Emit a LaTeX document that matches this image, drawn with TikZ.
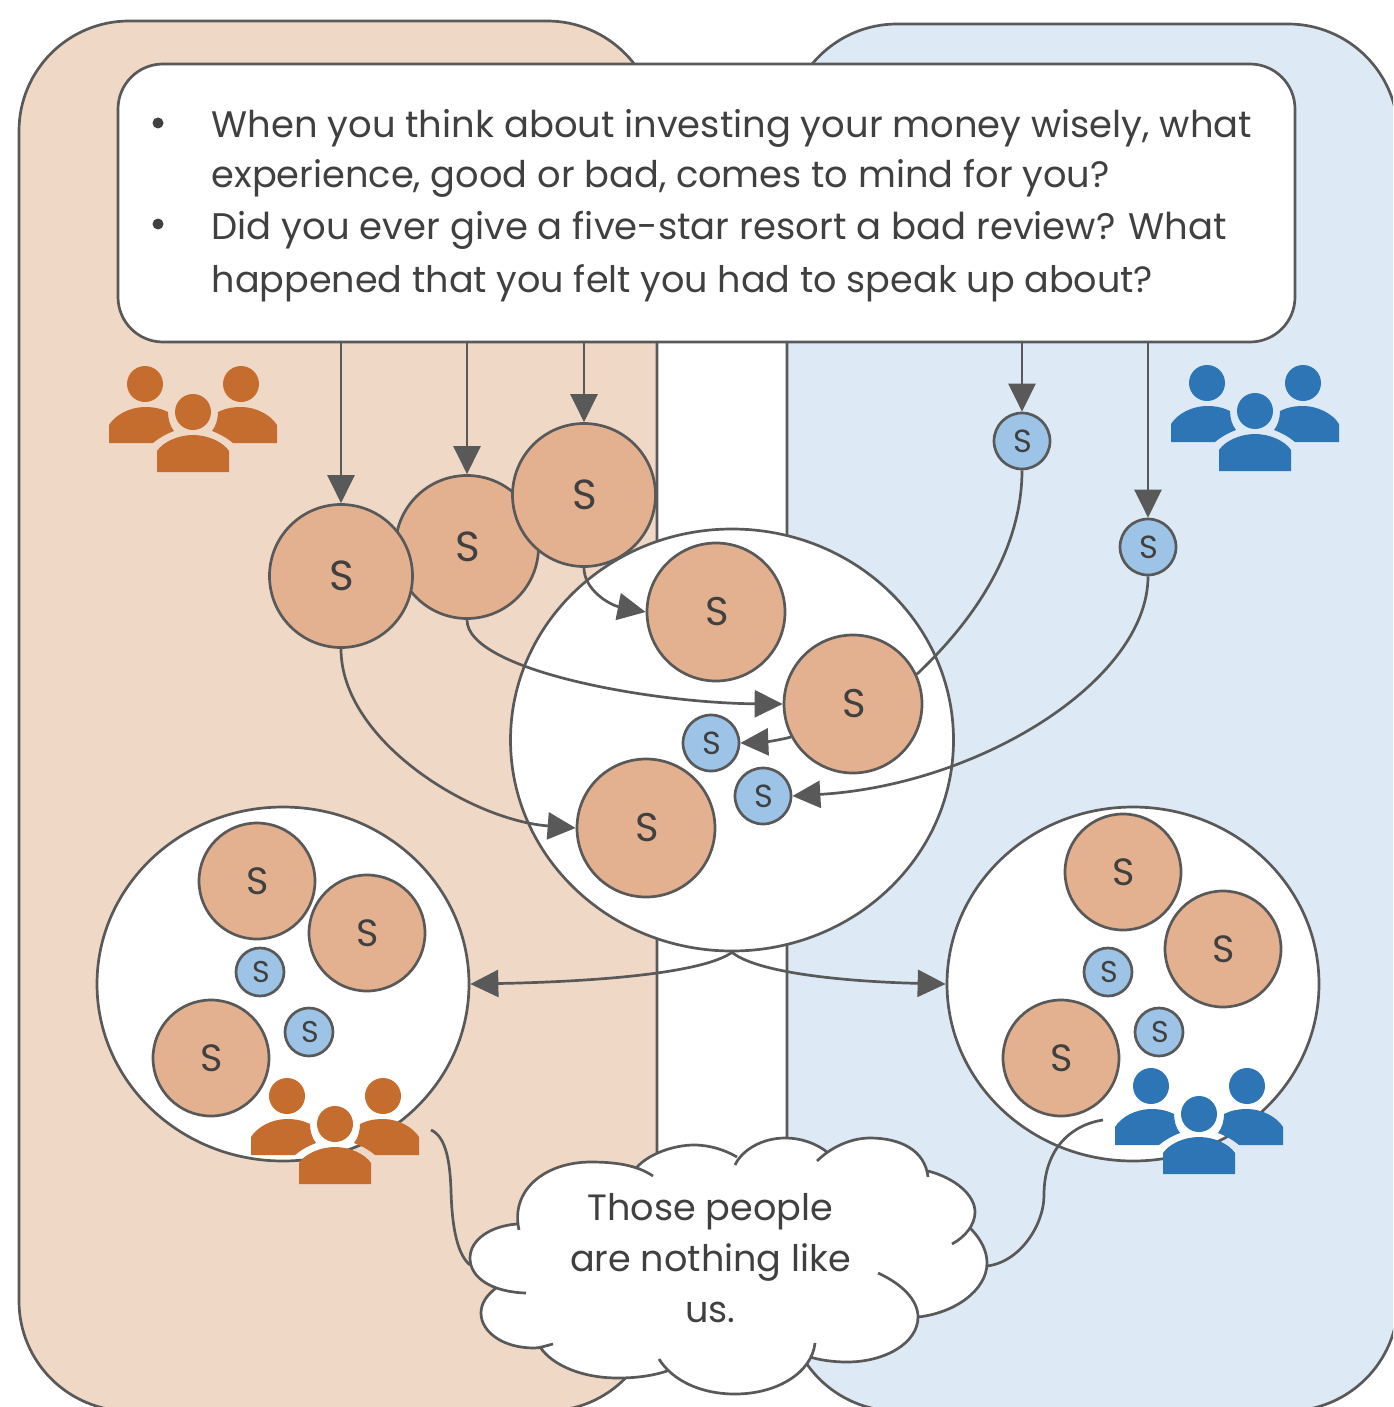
\documentclass[tikz,border=0pt]{standalone}
\usepackage{fontspec}
\setmainfont{Poppins}
\usetikzlibrary{arrows.meta,shapes.geometric}
\definecolor{linegray}{HTML}{595959}
\definecolor{textgray}{HTML}{404040}
\definecolor{peach}{HTML}{F0D8C7}
\definecolor{skyp}{HTML}{DDEAF6}
\definecolor{sorange}{HTML}{E3B18F}
\definecolor{sblue}{HTML}{9DC3E6}
\definecolor{iconorange}{HTML}{C46D2F}
\definecolor{iconblue}{HTML}{2E75B6}
\newcommand\fs[1]{\fontsize{#1}{#1}\selectfont}
\newcommand\Sx{\kern2pt S}
\newcommand\peopleicon[3]{%
  \begin{scope}[shift={(#1,#2)}]
    \fill[#3] (145,384) circle[radius=18] (241,384) circle[radius=18] (193,412) circle[radius=18];
    \fill[#3] (109,443) -- (109,425) .. controls (115,415) and (130,407) .. (145,407)
      .. controls (155,407) and (162,409) .. (168,412) .. controls (168,419) and (170,426) .. (174,431)
      .. controls (166,434) and (159,438) .. (153,443) -- cycle;
    \fill[#3] (277,443) -- (277,425) .. controls (271,415) and (256,407) .. (241,407)
      .. controls (231,407) and (224,409) .. (218,412) .. controls (218,419) and (216,426) .. (212,431)
      .. controls (220,434) and (227,438) .. (233,443) -- cycle;
    \fill[#3] (157,472) -- (157,451) .. controls (163,442) and (178,435) .. (193,435)
      .. controls (208,435) and (223,442) .. (229,451) -- (229,472) -- cycle;
  \end{scope}}
\newcommand\lobeA{(519,1230) .. controls (510,1190) and (545,1162) .. (591,1162) .. controls (615,1162) and (637,1165) .. (653,1176)}
\newcommand\lobeB{(637,1167) .. controls (650,1153) and (675,1145) .. (694,1145) .. controls (710,1145) and (725,1150) .. (737,1157)}
\newcommand\lobeC{(735,1165) .. controls (742,1150) and (762,1138) .. (785,1138) .. controls (802,1138) and (817,1144) .. (827,1152)}
\newcommand\lobeD{(817,1161) .. controls (830,1148) and (850,1138) .. (870,1138) .. controls (900,1138) and (925,1150) .. (928,1177)}
\newcommand\lobeE{(928,1171) .. controls (955,1178) and (975,1195) .. (975,1212) .. controls (975,1225) and (965,1237) .. (952,1244)}
\newcommand\lobeF{(970,1228) .. controls (982,1240) and (987,1252) .. (987,1263) .. controls (987,1290) and (955,1313) .. (918,1317)}
\newcommand\lobeG{(878,1273) .. controls (902,1284) and (918,1300) .. (918,1317) .. controls (918,1343) and (885,1362) .. (847,1362) .. controls (833,1362) and (820,1360) .. (810,1357)}
\newcommand\lobeH{(815,1343) .. controls (812,1372) and (778,1394) .. (735,1394) .. controls (700,1394) and (672,1380) .. (659,1359)}
\newcommand\lobeI{(667,1371) .. controls (652,1376) and (635,1378) .. (618,1378) .. controls (583,1378) and (553,1366) .. (540,1347)}
\newcommand\lobeJ{(553,1344) .. controls (545,1346) and (540,1348) .. (534,1348) .. controls (503,1348) and (481,1332) .. (481,1313) .. controls (481,1303) and (487,1295) .. (496,1288)}
\newcommand\lobeK{(526,1293) .. controls (492,1292) and (470,1278) .. (470,1258) .. controls (470,1240) and (490,1226) .. (517,1224)}
\tikzset{
  every node/.style={text=textgray,inner sep=0pt},
  ln/.style={draw=linegray,line width=2.7pt},
  conn/.style={ln,-{Triangle[length=28pt,width=27pt]}},
  plainconn/.style={ln},
  panel/.style={ln,rounded corners=110pt},
  bigring/.style={ln,ellipse,fill=white},
  so/.style={ln,circle,fill=sorange,minimum size=#1},
  sb/.style={ln,circle,fill=sblue,minimum size=#1},
  txt/.style={anchor=base west,font=\fs{#1}},
  ctxt/.style={anchor=base,font=\fs{36.6}},
  bullet/.style={circle,fill=textgray,minimum size=11pt},
}
\begin{document}
\begin{tikzpicture}[x=1pt,y=-1pt]
\useasboundingbox (0,0) rectangle (1393,1407);
\fill[white] (0,0) rectangle (1393,1407);
\begin{scope}
\clip (0,0) rectangle (1393,1407);
\path[panel,fill=peach] (19,21) rectangle (657,1411);
\path[panel,fill=skyp] (787,24) rectangle (1398,1411);
\end{scope}
% rings
\node[bigring,minimum width=443pt,minimum height=422pt] (ringc) at (732,740) {};
\node[bigring,minimum width=372pt,minimum height=354pt] (ringl) at (283,984) {};
\node[bigring,minimum width=372pt,minimum height=354pt] (ringr) at (1133,984) {};
% question box
\node[ln,rectangle,rounded corners=45pt,fill=white,minimum width=1177pt,minimum height=278pt] (box) at (706.5,203) {};
\node[bullet] (b1) at (158,123) {};
\node[bullet] (b2) at (158,224) {};
\node[txt=36.9] (t1) at (211.5,138) {When you think about investing your money wisely, what};
\node[txt=36.75] (t2) at (211.5,188) {experience, good or bad, comes to mind for you?};
\node[txt=37] (t3) at (211.5,239) {Did you ever give a five-star resort a bad review? What};
\node[txt=36.55] (t4) at (211.5,292) {happened that you felt you had to speak up about?};
% upper circles
\node[so=143pt,font=\fs{42}] (o2) at (467,547) {\Sx};
\node[so=143pt,font=\fs{42}] (o1) at (341,576) {\Sx};
\node[so=143pt,font=\fs{42}] (o3) at (584,495) {\Sx};
\node[sb=56pt,font=\fs{32}] (s1) at (1022,441) {\Sx};
\node[sb=56pt,font=\fs{32}] (s2) at (1148,547) {\Sx};
% centre ring content
\node[so=138pt,font=\fs{40}] (i1) at (716,612) {\Sx};
\node[so=138pt,font=\fs{40}] (i2) at (853,704) {\Sx};
\node[so=138pt,font=\fs{40}] (i3) at (646,828) {\Sx};
\node[sb=56pt,font=\fs{32}] (j1) at (711,743) {\Sx};
\node[sb=56pt,font=\fs{32}] (j2) at (763,796) {\Sx};
% left ring content
\node[so=116pt,font=\fs{38}] (l1) at (257,881) {\Sx};
\node[so=116pt,font=\fs{38}] (l2) at (367,933) {\Sx};
\node[so=116pt,font=\fs{38}] (l3) at (211,1058) {\Sx};
\node[sb=48pt,font=\fs{30}] (l4) at (260,972) {\Sx};
\node[sb=48pt,font=\fs{30}] (l5) at (309,1032) {\Sx};
% right ring content
\node[so=116pt,font=\fs{38}] (r1) at (1123,872) {\Sx};
\node[so=116pt,font=\fs{38}] (r2) at (1223,949) {\Sx};
\node[so=116pt,font=\fs{38}] (r3) at (1061,1058) {\Sx};
\node[sb=48pt,font=\fs{30}] (r4) at (1108,972) {\Sx};
\node[sb=48pt,font=\fs{30}] (r5) at (1159,1032) {\Sx};
% people
\peopleicon{0}{0}{iconorange}
\peopleicon{1062}{-1}{iconblue}
\peopleicon{142}{712}{iconorange}
\peopleicon{1006}{702}{iconblue}
% cloud
\fill[white] \lobeA -- \lobeB -- \lobeC -- \lobeD -- \lobeE -- \lobeF -- \lobeG -- \lobeH -- \lobeI -- \lobeJ -- \lobeK -- cycle;
\draw[ln] \lobeA \lobeB \lobeC \lobeD \lobeE \lobeF \lobeG \lobeH \lobeI \lobeJ \lobeK;
\node[ctxt] (c1) at (710.5,1220) {Those people};
\node[ctxt] (c2) at (710.5,1271) {are nothing like};
\node[ctxt] (c3) at (710.5,1322) {us.};
\coordinate (cloudL) at (470,1265);
\coordinate (cloudR) at (987,1266);
\coordinate (iconL) at (431,1130);
\coordinate (iconR) at (1103,1120);
% connectors
\draw[conn] (box.south -| o1.north) -- (o1.north);
\draw[conn] (box.south -| o2.north) -- (o2.north);
\draw[conn] (box.south -| o3.north) -- (o3.north);
\draw[conn] (box.south -| s1.north) -- (s1.north);
\draw[conn] (box.south -| s2.north) -- (s2.north);
\draw[conn] (o3.south) .. controls (584,590) and (610,605) .. (i1.west);
\draw[conn] (o2.south) .. controls (467,670) and (650,703) .. (i2.west);
\draw[conn] (o1.south) .. controls (341,740) and (470,820) .. (i3.west);
\draw[plainconn] (s1.south) .. controls (1022,540) and (985,610) .. (i2.25);
\draw[conn] (s2.south) .. controls (1148,680) and (980,785) .. (j2.east);
\draw[conn] (i2.208) .. controls (780,740) and (765,742) .. (j1.east);
\draw[conn] (ringc.south) .. controls (700,975) and (580,982) .. (ringl.east);
\draw[conn] (ringc.south) .. controls (760,975) and (860,982) .. (ringr.west);
\draw[plainconn] (iconL) .. controls (447,1137) and (450,1165) .. (451,1190) .. controls (452,1230) and (458,1255) .. (cloudL);
\draw[plainconn] (cloudR) .. controls (1020,1262) and (1044,1225) .. (1044,1195) .. controls (1044,1150) and (1070,1125) .. (iconR);
\end{tikzpicture}
\end{document}
